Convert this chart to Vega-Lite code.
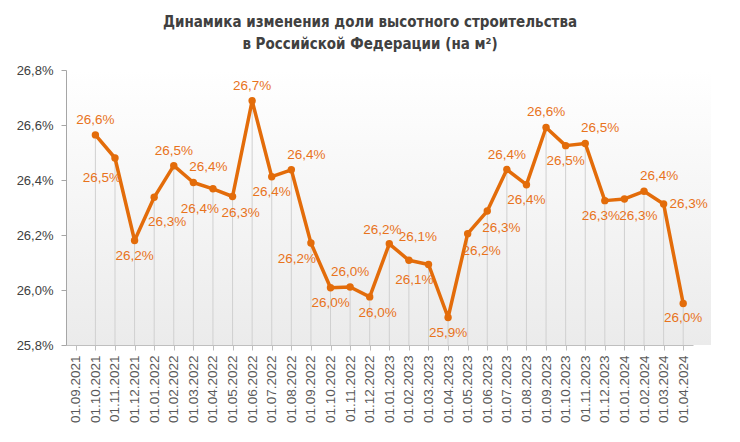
{
  "$schema": "https://vega.github.io/schema/vega-lite/v6.json",
  "width": 645,
  "height": 275,
  "autosize": {"type": "none"},
  "padding": {"left": 66, "top": 70, "right": 29, "bottom": 97},
  "background": "#ffffff",
  "config": {
    "locale": {"number": {"decimal": ",", "thousands": "\u00a0", "grouping": [3], "currency": ["", " ₽"]}},
    "view": {"stroke": null},
    "font": "Liberation Sans"
  },
  "view": {
    "stroke": null,
    "fill": {"gradient": "linear", "x1": 0, "y1": 0, "x2": 0, "y2": 1,
      "stops": [{"offset": 0, "color": "#ffffff"}, {"offset": 1, "color": "#ebebeb"}]}
  },
  "title": {
    "text": ["Динамика изменения доли высотного строительства", "в Российской Федерации (на м²)"],
    "font": "DejaVu Sans Condensed, Roboto Condensed, Liberation Sans",
    "fontSize": 15,
    "fontWeight": "bold",
    "color": "#404040",
    "lineHeight": 22,
    "anchor": "middle",
    "dx": -18.5,
    "offset": 12
  },
  "data": {
    "values": [
      {"date": "01.10.2021", "value": 0.26564},
      {"date": "01.11.2021", "value": 0.26480},
      {"date": "01.12.2021", "value": 0.26180},
      {"date": "01.01.2022", "value": 0.26337},
      {"date": "01.02.2022", "value": 0.26452},
      {"date": "01.03.2022", "value": 0.26391},
      {"date": "01.04.2022", "value": 0.26368},
      {"date": "01.05.2022", "value": 0.26340},
      {"date": "01.06.2022", "value": 0.26688},
      {"date": "01.07.2022", "value": 0.26412},
      {"date": "01.08.2022", "value": 0.26437},
      {"date": "01.09.2022", "value": 0.26171},
      {"date": "01.10.2022", "value": 0.26008},
      {"date": "01.11.2022", "value": 0.26011},
      {"date": "01.12.2022", "value": 0.25975},
      {"date": "01.01.2023", "value": 0.26168},
      {"date": "01.02.2023", "value": 0.26108},
      {"date": "01.03.2023", "value": 0.26093},
      {"date": "01.04.2023", "value": 0.25900},
      {"date": "01.05.2023", "value": 0.26205},
      {"date": "01.06.2023", "value": 0.26287},
      {"date": "01.07.2023", "value": 0.26438},
      {"date": "01.08.2023", "value": 0.26383},
      {"date": "01.09.2023", "value": 0.26591},
      {"date": "01.10.2023", "value": 0.26525},
      {"date": "01.11.2023", "value": 0.26533},
      {"date": "01.12.2023", "value": 0.26325},
      {"date": "01.01.2024", "value": 0.26331},
      {"date": "01.02.2024", "value": 0.26359},
      {"date": "01.03.2024", "value": 0.26313},
      {"date": "01.04.2024", "value": 0.25951}
    ]
  },
  "encoding": {
    "x": {
      "field": "date",
      "type": "nominal",
      "sort": null,
      "scale": {
        "type": "point",
        "domain": ["01.09.2021","01.10.2021","01.11.2021","01.12.2021","01.01.2022","01.02.2022","01.03.2022","01.04.2022","01.05.2022","01.06.2022","01.07.2022","01.08.2022","01.09.2022","01.10.2022","01.11.2022","01.12.2022","01.01.2023","01.02.2023","01.03.2023","01.04.2023","01.05.2023","01.06.2023","01.07.2023","01.08.2023","01.09.2023","01.10.2023","01.11.2023","01.12.2023","01.01.2024","01.02.2024","01.03.2024","01.04.2024"],
        "range": [0, 627]
      },
      "axis": {
        "title": null,
        "labelAngle": -90,
        "labelFontSize": 13.5,
        "labelColor": "#595959",
        "labelPadding": 5,
        "tickSize": 5,
        "tickColor": "#bfbfbf",
        "domainColor": "#bfbfbf",
        "grid": false,
        "labelOverlap": false
      }
    },
    "y": {
      "field": "value",
      "type": "quantitative",
      "scale": {"domain": [0.258, 0.268], "nice": false, "zero": false},
      "axis": {
        "title": null,
        "values": [0.258, 0.260, 0.262, 0.264, 0.266, 0.268],
        "format": ".1%",
        "labelFontSize": 13,
        "labelColor": "#404040",
        "labelPadding": 8,
        "tickSize": 5,
        "tickColor": "#a6a6a6",
        "domainColor": "#a6a6a6",
        "grid": false
      }
    }
  },
  "layer": [
    {
      "mark": {"type": "rule", "color": "#d0d0d0", "strokeWidth": 1},
      "encoding": {"y2": {"datum": 0.258}}
    },
    {
      "mark": {"type": "line", "color": "#E36C0A", "strokeWidth": 3.5, "strokeJoin": "round"},
      "encoding": {}
    },
    {
      "mark": {"type": "point", "filled": true, "color": "#E36C0A", "size": 55, "opacity": 1},
      "encoding": {}
    },
    {
      "transform": [{"filter": {"field": "date", "oneOf": ["01.10.2021","01.02.2022","01.06.2022","01.11.2022","01.07.2023","01.09.2023"]}}],
      "mark": {"type": "text", "color": "#E8731C", "fontSize": 13.5, "dy": -15, "baseline": "middle"},
      "encoding": {"text": {"field": "value", "format": ".1%"}}
    },
    {
      "transform": [{"filter": {"field": "date", "oneOf": ["01.12.2021","01.07.2022","01.10.2022","01.04.2023","01.08.2023","01.10.2023","01.04.2024"]}}],
      "mark": {"type": "text", "color": "#E8731C", "fontSize": 13.5, "dy": 15, "baseline": "middle"},
      "encoding": {"text": {"field": "value", "format": ".1%"}}
    },
    {
      "transform": [{"filter": {"field": "date", "oneOf": ["01.05.2022","01.12.2022"]}}],
      "mark": {"type": "text", "color": "#E8731C", "fontSize": 13.5, "dx": 8, "dy": 16, "baseline": "middle"},
      "encoding": {"text": {"field": "value", "format": ".1%"}}
    },
    {
      "transform": [{"filter": {"field": "date", "oneOf": ["01.03.2022","01.08.2022","01.11.2023","01.02.2024"]}}],
      "mark": {"type": "text", "color": "#E8731C", "fontSize": 13.5, "dx": 15, "dy": -15, "baseline": "middle"},
      "encoding": {"text": {"field": "value", "format": ".1%"}}
    },
    {
      "transform": [{"filter": {"field": "date", "oneOf": ["01.02.2023"]}}],
      "mark": {"type": "text", "color": "#E8731C", "fontSize": 13.5, "dx": 9, "dy": -23, "baseline": "middle"},
      "encoding": {"text": {"field": "value", "format": ".1%"}}
    },
    {
      "transform": [{"filter": {"field": "date", "oneOf": ["01.09.2022","01.03.2023"]}}],
      "mark": {"type": "text", "color": "#E8731C", "fontSize": 13.5, "dx": -14, "dy": 16, "baseline": "middle"},
      "encoding": {"text": {"field": "value", "format": ".1%"}}
    },
    {
      "transform": [{"filter": {"field": "date", "oneOf": ["01.11.2021","01.04.2022"]}}],
      "mark": {"type": "text", "color": "#E8731C", "fontSize": 13.5, "dx": -13, "dy": 20, "baseline": "middle"},
      "encoding": {"text": {"field": "value", "format": ".1%"}}
    },
    {
      "transform": [{"filter": {"field": "date", "oneOf": ["01.05.2023","01.06.2023","01.01.2024"]}}],
      "mark": {"type": "text", "color": "#E8731C", "fontSize": 13.5, "dx": 14, "dy": 17, "baseline": "middle"},
      "encoding": {"text": {"field": "value", "format": ".1%"}}
    },
    {
      "transform": [{"filter": {"field": "date", "oneOf": ["01.01.2022"]}}],
      "mark": {"type": "text", "color": "#E8731C", "fontSize": 13.5, "dx": 13, "dy": 25, "baseline": "middle"},
      "encoding": {"text": {"field": "value", "format": ".1%"}}
    },
    {
      "transform": [{"filter": {"field": "date", "oneOf": ["01.01.2023"]}}],
      "mark": {"type": "text", "color": "#E8731C", "fontSize": 13.5, "dx": -7, "dy": -14, "baseline": "middle"},
      "encoding": {"text": {"field": "value", "format": ".1%"}}
    },
    {
      "transform": [{"filter": {"field": "date", "oneOf": ["01.12.2023"]}}],
      "mark": {"type": "text", "color": "#E8731C", "fontSize": 13.5, "dx": -4, "dy": 15, "baseline": "middle"},
      "encoding": {"text": {"field": "value", "format": ".1%"}}
    },
    {
      "transform": [{"filter": {"field": "date", "oneOf": ["01.03.2024"]}}],
      "mark": {"type": "text", "color": "#E8731C", "fontSize": 13.5, "dx": 25, "dy": 0, "baseline": "middle"},
      "encoding": {"text": {"field": "value", "format": ".1%"}}
    }
  ]
}
